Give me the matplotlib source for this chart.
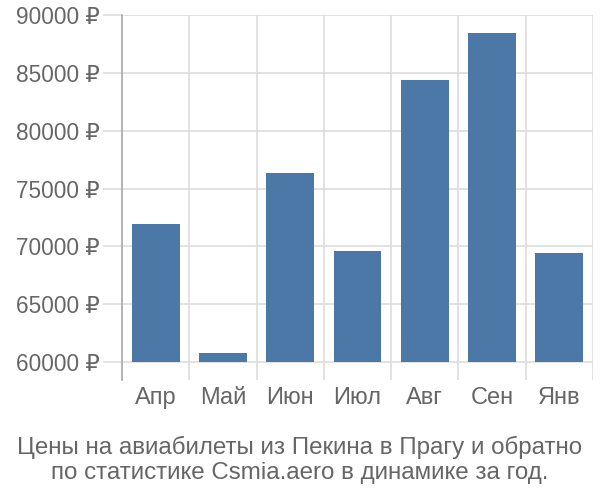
import matplotlib
matplotlib.use('Agg')
import matplotlib.pyplot as plt
import numpy as np

months = ['Апр', 'Май', 'Июн', 'Июл', 'Авг', 'Сен', 'Янв']
prices = [71930, 60750, 76340, 69600, 84380, 88450, 69420]
yticks = [60000, 65000, 70000, 75000, 80000, 85000, 90000]
base = 60000
caption = 'Цены на авиабилеты из Пекина в Прагу и обратно\nпо статистике Csmia.aero в динамике за год.'

plt.rcParams['font.family'] = ['Liberation Sans', 'DejaVu Sans']
textColor = '#666666'
gridColor = '#dddddd'

fig = plt.figure(figsize=(6, 5), dpi=100)
ax = fig.add_axes([0.2033, 0.24, 0.785, 0.73])

x = np.arange(len(months))
heights = [p - base for p in prices]
ax.bar(x, heights, 0.71, bottom=base, color='#4c78a8', zorder=3)

ax.set_xlim(-0.5, len(months) - 0.5)
ax.set_ylim(58450, 90000)

# vertical lines at category boundaries
for b in np.arange(len(months) + 1) - 0.5:
    ax.axvline(b, color=gridColor, lw=1.2, zorder=1)

ax.set_yticks(yticks)
ax.set_yticklabels([f'{v} ₽' for v in yticks])
ax.yaxis.grid(True, color=gridColor, lw=1.2, zorder=1)
ax.tick_params(axis='y', length=14, color=gridColor, width=1.2, pad=2,
               labelsize=16.3, labelcolor=textColor)
ax.set_xticks(x)
ax.set_xticklabels(months)
ax.tick_params(axis='x', length=0, pad=5, labelsize=17, labelcolor=textColor)

for s in ['top', 'right', 'bottom']:
    ax.spines[s].set_visible(False)
ax.spines['left'].set_color('#aaaaaa')
ax.spines['left'].set_linewidth(1.2)
ax.spines['left'].set_zorder(4)

fig.text(0.5, 0.08, caption, ha='center', va='center', fontsize=17.4,
         color=textColor, linespacing=1.18)

fig.savefig('out.png', dpi=100)
